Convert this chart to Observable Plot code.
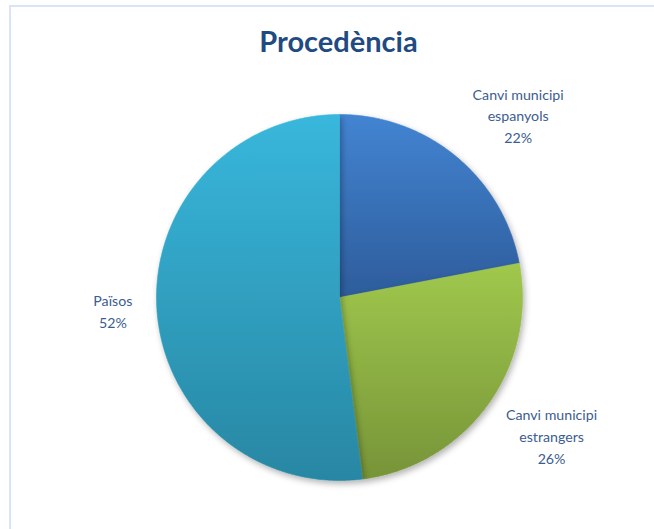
<!DOCTYPE html>
<html>
<head>
<meta charset="utf-8">
<script src="https://cdn.jsdelivr.net/npm/d3@7"></script>
<script src="https://cdn.jsdelivr.net/npm/@observablehq/plot@0.6"></script>
<style>
  html, body { margin: 0; padding: 0; background: #fff; }
  #wrap { position: relative; width: 654px; height: 529px; overflow: hidden; }
  #border { position: absolute; left: 9px; top: 5px; width: 700px; height: 600px;
            border-top: 2px solid #dae4f4; border-left: 2px solid #dae4f4; }
  #chart { position: absolute; left: 0; top: 0; }
</style>
</head>
<body>
<div id="wrap"><div id="border"></div><div id="chart"></div></div>
<script>
// ---- data ----
const title = "Procedència";
const categories = ["Canvi municipi espanyols", "Canvi municipi estrangers", "Països"];
const labelTexts = ["Canvi municipi\nespanyols", "Canvi municipi\nestrangers", "Països"];
const values = [22, 26, 52];

// ---- layout / style ----
const W = 654, H = 529;
const cx = 339, cy = 297, R = 183;
const gradients = [
  ["#4384d2", "#2d5c9b"],
  ["#a0c84d", "#779438"],
  ["#38b7dc", "#2887a3"]
];
const labelOffsets = [[62, -42], [64, 30], [-44, 1]]; // px offsets from slice edge midpoint
const textColor = "#3b5d8f";

const total = d3.sum(values);
const arcs = d3.pie().sort(null).value(d => d)(values);

// polygon points in unit data coordinates (y up)
const slices = arcs.map((a, i) => {
  const n = Math.max(2, Math.ceil((a.endAngle - a.startAngle) / (Math.PI / 360)));
  const pts = [{i, x: 0, y: 0}];
  for (let k = 0; k <= n; k++) {
    const t = a.startAngle + (a.endAngle - a.startAngle) * k / n;
    pts.push({i, x: Math.sin(t), y: Math.cos(t)});
  }
  pts.push({i, x: 0, y: 0});
  return pts;
});

const labels = arcs.map((a, i) => {
  const m = (a.startAngle + a.endAngle) / 2;
  return {
    x: Math.sin(m) + labelOffsets[i][0] / R,
    y: Math.cos(m) - labelOffsets[i][1] / R,
    text: labelTexts[i] + "\n" + Math.round(values[i] / total * 100) + "%"
  };
});

const xDomain = [-cx / R, (W - cx) / R];
const yDomain = [(cy - H) / R, cy / R];

const defs = () => {
  const d = d3.create("svg:defs");
  gradients.forEach((g, i) => {
    const lg = d.append("linearGradient").attr("id", "g" + i)
      .attr("x1", 0).attr("y1", 0).attr("x2", 0).attr("y2", 1);
    lg.append("stop").attr("offset", "0%").attr("stop-color", g[0]);
    lg.append("stop").attr("offset", "100%").attr("stop-color", g[1]);
  });
  const f = d.append("filter").attr("id", "shadow")
    .attr("x", "-10%").attr("y", "-10%").attr("width", "130%").attr("height", "130%");
  f.append("feDropShadow").attr("dx", 2).attr("dy", 3).attr("stdDeviation", 3)
    .attr("flood-color", "#000").attr("flood-opacity", 0.3);
  return d.node();
};

const plot = Plot.plot({
  width: W,
  height: H,
  margin: 0,
  x: {domain: xDomain, axis: null},
  y: {domain: yDomain, axis: null},
  style: {background: "transparent", fontFamily: "Lato, 'Noto Sans', sans-serif"},
  marks: [
    defs,
    ...slices.map((s, i) => Plot.line(s, {
      x: "x", y: "y", fill: `url(#g${i})`, stroke: `url(#g${i})`, strokeWidth: 0.6, curve: "linear"
    })),
    Plot.text(labels, {
      x: "x", y: "y", text: "text", fill: textColor, fontSize: 14.2,
      lineHeight: 1.52, lineAnchor: "middle", textAnchor: "middle"
    }),
    Plot.text([title], {
      frameAnchor: "top", text: d => d, dy: 31, dx: 11,
      fill: "#1f4b82", fontSize: 29, fontWeight: "bold", lineAnchor: "top"
    })
  ]
});

plot.querySelectorAll('g[aria-label="line"]').forEach(g => g.setAttribute("filter", "url(#shadow)"));
document.getElementById("chart").appendChild(plot);
</script>
</body>
</html>
